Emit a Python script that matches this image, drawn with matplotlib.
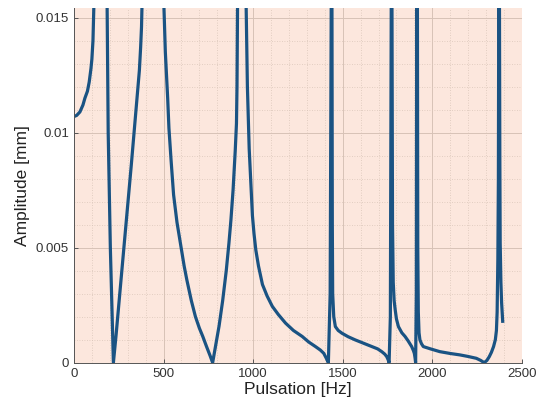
import numpy as np
import matplotlib
matplotlib.use("Agg")
import matplotlib.pyplot as plt
from matplotlib.ticker import MultipleLocator, FuncFormatter

# Frequency response (peaks go above the axis)
freq = [0, 15, 33, 50, 61, 75, 85, 95, 100, 106, 111, 148, 185, 188, 191, 203, 220,
        235, 250, 265, 283, 300, 320, 340, 357, 365, 372, 377, 380, 440,
        502, 510, 523, 530, 542, 556, 575, 598, 615, 630, 655, 678, 700, 719, 740, 760, 774,
        790, 810, 830, 850, 865, 876, 888, 900, 907, 910, 913, 937,
        961, 968, 978, 987, 996, 1005, 1015, 1030, 1052, 1078, 1107, 1140, 1181, 1225,
        1274, 1310, 1348, 1375, 1394, 1408, 1420,
        1430, 1436, 1438, 1440, 1442, 1444, 1450, 1459, 1475, 1496, 1530, 1570, 1615,
        1663, 1695, 1718, 1735, 1746, 1754, 1759,
        1766, 1771, 1773, 1775, 1778, 1782, 1787, 1793, 1800, 1811, 1830, 1848, 1865,
        1885, 1895, 1900, 1904, 1907,
        1911, 1913, 1915, 1917, 1919, 1922, 1926, 1931, 1940, 1950, 1990, 2042, 2100,
        2153, 2200, 2246, 2270, 2290,
        2305, 2318, 2330, 2342, 2352, 2358, 2362, 2366, 2369, 2371, 2373, 2375, 2377,
        2379, 2383, 2387, 2393]
ampl = [0.0107, 0.01075, 0.0109, 0.0112, 0.0115, 0.0118, 0.0122, 0.0128, 0.0132, 0.0140, 0.0155, 0.05, 0.0155, 0.0125, 0.0100, 0.0050, 0.0,
        0.0012, 0.0025, 0.0038, 0.0054, 0.0068, 0.0086, 0.0104, 0.0119, 0.0127, 0.0137, 0.0146, 0.0155, 0.05,
        0.0155, 0.0135, 0.0115, 0.0102, 0.0088, 0.0073, 0.0061, 0.0050, 0.0042, 0.0036, 0.0027, 0.0020, 0.0015, 0.00114, 0.0007, 0.0003, 0.0,
        0.0007, 0.0016, 0.0027, 0.0040, 0.0052, 0.0062, 0.0075, 0.0092, 0.0104, 0.0120, 0.0155, 0.05,
        0.0155, 0.0120, 0.0093, 0.0078, 0.0064, 0.0056, 0.0049, 0.0042, 0.0034, 0.0029, 0.00245, 0.0021, 0.00172, 0.0014,
        0.00114, 0.0009, 0.0007, 0.00055, 0.00041, 0.0002, 0.0,
        0.003, 0.0155, 0.05, 0.0155, 0.006, 0.0030, 0.0020, 0.00157, 0.0014, 0.00128, 0.00113, 0.00099, 0.00085,
        0.0007, 0.0006, 0.00048, 0.00037, 0.00026, 0.00012, 0.0,
        0.002, 0.0155, 0.05, 0.0155, 0.006, 0.0035, 0.0027, 0.0023, 0.0019, 0.00157, 0.0013, 0.00114, 0.00095,
        0.0007, 0.00052, 0.0004, 0.0002, 0.0,
        0.003, 0.0155, 0.05, 0.0155, 0.005, 0.0022, 0.0013, 0.00099, 0.00082, 0.0007, 0.0006, 0.00048, 0.0004,
        0.00034, 0.00027, 0.00019, 0.0001, 0.0,
        0.0001, 0.00026, 0.00045, 0.0007, 0.001, 0.0014, 0.0022, 0.0045, 0.0080, 0.0155, 0.05, 0.0155, 0.0090,
        0.0052, 0.0035, 0.0026, 0.0018]

plt.rcParams['font.family'] = ['Liberation Sans', 'DejaVu Sans']

fig = plt.figure(figsize=(5.38, 4.12), dpi=100)
ax = fig.add_axes([0.1375, 0.1197, 0.8325, 0.8609])
ax.set_facecolor('#fce7dd')

ax.plot(freq, ampl, color='#1a5383', lw=2.3, solid_joinstyle='round')

ax.set_xlim(0, 2500)
ax.set_ylim(0, 0.01542)
ax.xaxis.set_major_locator(MultipleLocator(500))
ax.xaxis.set_minor_locator(MultipleLocator(100))
ax.yaxis.set_major_locator(MultipleLocator(0.005))
ax.yaxis.set_minor_locator(MultipleLocator(0.001))
ax.yaxis.set_major_formatter(FuncFormatter(lambda v, p: '%g' % round(v, 4)))

ax.grid(which='major', color='#d7c2b6', lw=0.7, ls='-')
ax.grid(which='minor', color='#d9c5b9', lw=0.6, ls=(0, (1, 2)))
ax.set_axisbelow(True)

for s in ['top', 'right']:
    ax.spines[s].set_visible(False)
for s in ['left', 'bottom']:
    ax.spines[s].set_color('#555555')
    ax.spines[s].set_linewidth(0.7)
ax.tick_params(which='major', direction='in', length=3, width=0.7, colors='#555555',
               labelcolor='#333333', labelsize=9.5)
ax.tick_params(which='minor', length=0)

ax.set_xlabel('Pulsation [Hz]', fontsize=12.5, color='#222222', labelpad=2)
ax.set_ylabel('Amplitude [mm]', fontsize=12.5, color='#222222', labelpad=4)

fig.savefig('out.png', dpi=100)
